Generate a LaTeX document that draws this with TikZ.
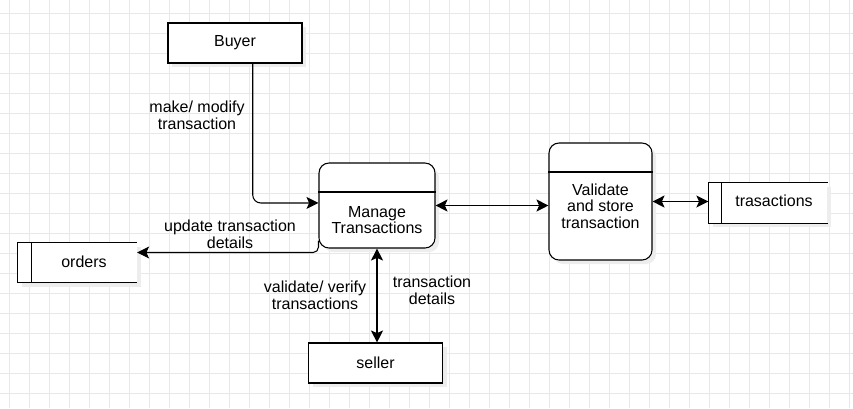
\documentclass[tikz,border=0pt]{standalone}
\usepackage{fontspec}
\setmainfont{Liberation Sans}
\usetikzlibrary{arrows.meta}

\tikzset{
    gridline/.style={draw=black!9, line width=0.6pt},
    soft shadow/.style={preaction={draw=none, fill=black!7, transform canvas={xshift=3pt, yshift=-3pt}}},
    entity/.style={draw, thick, fill=white, minimum width=100.5pt, minimum height=30pt, soft shadow},
    process/.style={draw, thick, fill=white, rounded corners=7.5pt, soft shadow},
    store/.style={fill=white, minimum width=89pt, minimum height=30pt, soft shadow},
    flow/.style={thick, ->},
    dflow/.style={thick, <->},
    lbl/.style={align=center, inner sep=0pt}
}

\begin{document}
\begin{tikzpicture}[x=0.75pt, y=-0.75pt, font=\fontsize{12}{12.5}\selectfont,
    >={Stealth[length=9pt, width=9pt, inset=2pt]}]
\useasboundingbox (0,0) rectangle (853,408);

% background grid
\foreach \gx in {9,29,...,849} \draw[gridline] (\gx,0) -- (\gx,408);
\foreach \gy in {13,33,...,393} \draw[gridline] (0,\gy) -- (853,\gy);

% external entities
\node[entity] (buyer) at (235,43) {Buyer};
\node[entity] (seller) at (375.5,363) {seller};

% processes
\node[process, minimum width=87pt, minimum height=63.75pt] (manage) at (377,205.5) {};
\draw[thick] (manage.west |- 0,192) -- (manage.east |- 0,192);
\node[lbl] at (377,220) {Manage\\Transactions};

\node[process, minimum width=77.25pt, minimum height=87.75pt] (validate) at (600.5,201.5) {};
\draw[thick] (validate.west |- 0,172) -- (validate.east |- 0,172);
\node[lbl] at (600.5,206) {Validate\\and store\\transaction};

% data stores
\node[store] (orders) at (77.5,262.5) {};
\draw[thick] (orders.north east) -- (orders.north west) -- (orders.south west) -- (orders.south east);
\draw[thick] ([xshift=10pt]orders.north west) -- ([xshift=10pt]orders.south west);
\node at (84,262) {orders};

\node[store] (tstore) at (768,203) {};
\draw[thick] (tstore.north east) -- (tstore.north west) -- (tstore.south west) -- (tstore.south east);
\draw[thick] ([xshift=10pt]tstore.north west) -- ([xshift=10pt]tstore.south west);
\node at (774,201) {trasactions};

% data flows
\draw[flow, rounded corners=6pt] ([xshift=13.3pt]buyer.south) |- ([yshift=1.9pt]manage.west);
\node[lbl] at (197,115) {make/ modify\\transaction};

\coordinate (upd) at ([yshift=6pt]manage.south west);
\draw[flow, rounded corners=4pt] (upd) |- ([yshift=7.5pt]orders.east);
\node[lbl] at (230,234) {update transaction\\details};

\draw[dflow] (manage.east) -- (manage.east -| validate.west);
\draw[dflow] (validate.east) -- (validate.east -| tstore.west);

\draw[dflow] (manage.south) -- (manage.south |- seller.north);
\node[lbl] at (315,295) {validate/ verify\\transactions};
\node[lbl] at (432,290) {transaction\\details};
\end{tikzpicture}
\end{document}
